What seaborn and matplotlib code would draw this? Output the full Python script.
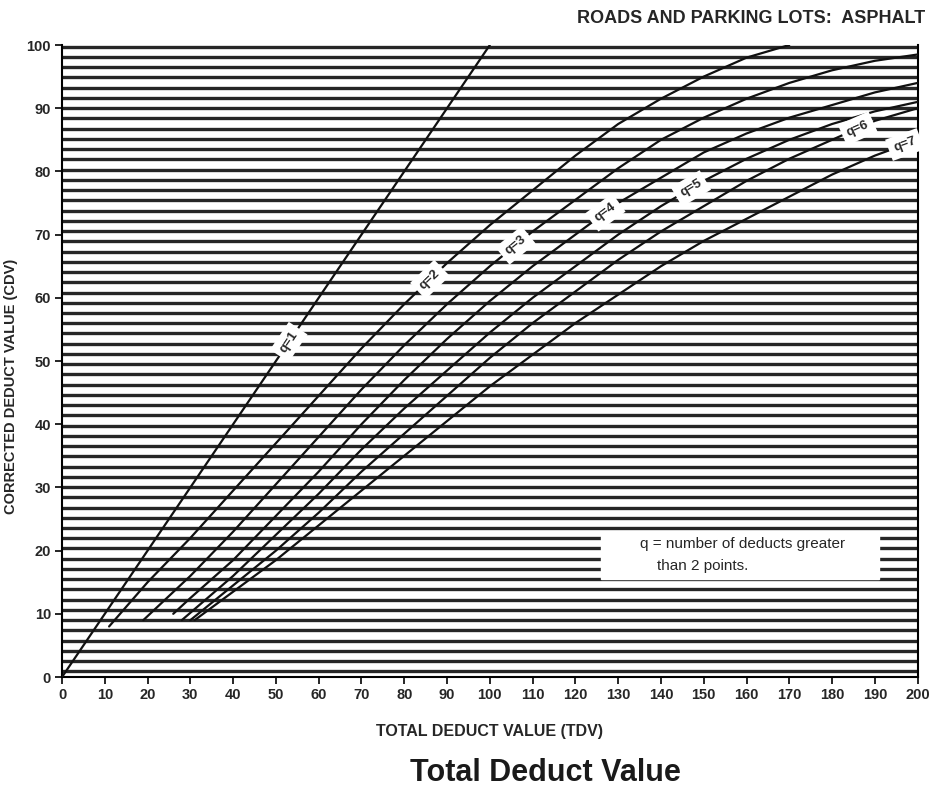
import numpy as np
import pandas as pd
import matplotlib
matplotlib.use("Agg")
import matplotlib.pyplot as plt
import seaborn as sns

# curve data: total deduct value (TDV) -> corrected deduct value (CDV)
q1_tdv = [0, 100]
q1_cdv = [0, 100]
q2_tdv = [11, 20, 30, 40, 50, 60, 70, 80, 90, 100, 110, 120, 130, 140, 150, 160, 170]
q2_cdv = [8, 15, 22, 29.5, 37, 44.5, 52, 59, 65.5, 71.5, 77, 82.5, 87.5, 91.5, 95, 98, 100]
q3_tdv = [19, 30, 40, 50, 60, 70, 80, 90, 100, 110, 120, 130, 140, 150, 160, 170, 180, 190, 200]
q3_cdv = [9, 16, 23, 30.5, 38, 45.5, 52.5, 59, 65, 70.5, 75.5, 80.5, 85, 88.5, 91.5, 94, 96, 97.5, 98.5]
q4_tdv = [26, 30, 40, 50, 60, 70, 80, 90, 100, 110, 120, 130, 140, 150, 160, 170, 180, 190, 200]
q4_cdv = [10, 12.5, 18.5, 25.5, 32.5, 40, 47, 53.5, 59.5, 65, 70, 75, 79, 83, 86, 88.5, 90.5, 92.5, 94]
q5_tdv = [28, 40, 50, 60, 70, 80, 90, 100, 110, 120, 130, 140, 150, 160, 170, 180, 190, 200]
q5_cdv = [9, 16, 22.5, 29, 36, 42.5, 48.5, 54.5, 60, 65, 70, 74.5, 78.5, 82, 85, 87.5, 89.5, 91]
q6_tdv = [30, 40, 50, 60, 70, 80, 90, 100, 110, 120, 130, 140, 150, 160, 170, 180, 190, 200]
q6_cdv = [9, 14.5, 20, 26, 32.5, 38.5, 44.5, 50.5, 56, 61, 66, 70.5, 74.5, 78.5, 82, 85, 88, 90]
q7_tdv = [31, 40, 50, 60, 70, 80, 90, 100, 110, 120, 130, 140, 150, 160, 170, 180, 190, 200]
q7_cdv = [9, 13.5, 18.5, 24, 29.5, 35, 40.5, 46, 51, 56, 60.5, 65, 69, 72.5, 76, 79.5, 82.5, 85]

q_names = ["q=1", "q=2", "q=3", "q=4", "q=5", "q=6", "q=7"]
label_tdv = [53, 86, 106, 127, 147, 186, 197]

x_ticks = list(range(0, 201, 10))
y_ticks = list(range(0, 101, 10))

curves = [
    (q1_tdv, q1_cdv), (q2_tdv, q2_cdv), (q3_tdv, q3_cdv), (q4_tdv, q4_cdv),
    (q5_tdv, q5_cdv), (q6_tdv, q6_cdv), (q7_tdv, q7_cdv),
]
rows = []
for name, (xs, ys) in zip(q_names, curves):
    for x, y in zip(xs, ys):
        rows.append({"q": name, "tdv": x, "cdv": y})
df = pd.DataFrame(rows)

sns.set_theme(style="white")
plt.rcParams["font.family"] = ["Liberation Sans Narrow", "Liberation Sans", "DejaVu Sans"]

fig = plt.figure(figsize=(9.3, 7.98), dpi=100)
ax = fig.add_axes([0.0667, 0.1516, 0.92, 0.792])
ax.set_xlim(0, 200)
ax.set_ylim(0, 100)

# scanned-paper look: dense dark horizontal rules
for yy in np.arange(0.9, 100, 1.62):
    ax.axhline(yy, color="#262626", lw=2.4, zorder=0)

sns.lineplot(data=df, x="tdv", y="cdv", units="q", estimator=None,
             color="#111111", lw=1.6, ax=ax, zorder=3, legend=False)

fig.canvas.draw()
for name, (xs, ys), lx in zip(q_names, curves, label_tdv):
    ly = np.interp(lx, xs, ys)
    p0 = ax.transData.transform((lx - 3, np.interp(lx - 3, xs, ys)))
    p1 = ax.transData.transform((lx + 3, np.interp(lx + 3, xs, ys)))
    ang = np.degrees(np.arctan2(p1[1] - p0[1], p1[0] - p0[0]))
    ax.text(lx, ly, name, rotation=ang, rotation_mode="anchor",
            ha="center", va="center", fontsize=9.5, fontweight="bold", zorder=5,
            bbox=dict(boxstyle="square,pad=0.4", fc="white", ec="none"))

# note box
ax.axhspan(15.5, 23, xmin=126 / 200, xmax=191 / 200, color="white", zorder=4)
ax.text(135, 21, "q = number of deducts greater", fontsize=11, va="center", zorder=5)
ax.text(139, 17.5, "than 2 points.", fontsize=11, va="center", zorder=5)

ax.set_xticks(x_ticks)
ax.set_yticks(y_ticks)
ax.tick_params(axis="both", direction="out", length=5, width=1.2, color="black",
               labelsize=10.5, bottom=True, left=True, pad=3)
for lab in ax.get_xticklabels() + ax.get_yticklabels():
    lab.set_fontweight("bold")
for side in ["left", "bottom", "right"]:
    ax.spines[side].set_color("black")
    ax.spines[side].set_linewidth(1.5)
ax.spines["top"].set_visible(False)

ax.set_xlabel("TOTAL DEDUCT VALUE (TDV)", fontsize=11.5, fontweight="bold", labelpad=16)
ax.set_ylabel("CORRECTED DEDUCT VALUE (CDV)", fontsize=10.5, fontweight="bold")
ax.yaxis.set_label_coords(-0.051, 0.46)

fig.text(0.995, 0.977, "ROADS AND PARKING LOTS:  ASPHALT", ha="right", va="center",
         fontsize=13, fontweight="bold")
fig.text(0.586, 0.031, "Total Deduct Value", ha="center", va="center",
         fontsize=22, fontweight="bold", color="#1a1a1a")

fig.savefig("out.png", dpi=100)
